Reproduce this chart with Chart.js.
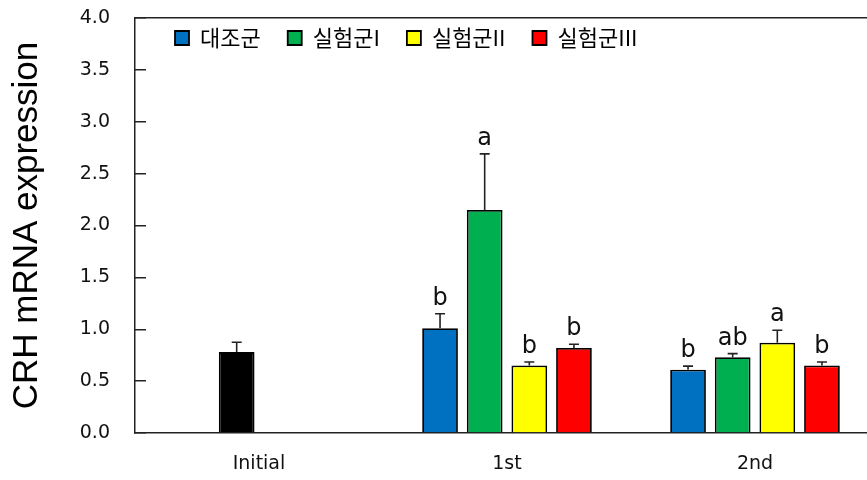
<!DOCTYPE html>
<html>
<head>
<meta charset="utf-8">
<script src="https://cdn.jsdelivr.net/npm/chart.js@4.4.0/dist/chart.umd.min.js"></script>
<style>
  html, body { margin: 0; padding: 0; background: #fff; overflow: hidden; }
  #wrap { width: 867px; height: 480px; overflow: hidden; }
</style>
</head>
<body>
<div id="wrap"><canvas id="chart" width="880" height="480"></canvas></div>
<script>
// 데이터
const categories = ['Initial', '1st', '2nd'];
const groupNames = ['대조군', '실험군I', '실험군II', '실험군III'];
const yTicks = [0.0, 0.5, 1.0, 1.5, 2.0, 2.5, 3.0, 3.5, 4.0];

const initialMeans = [0.78, null, null];
const initialErrors = [0.095, null, null];

const controlMeans = [null, 1.01, 0.61];
const controlErrors = [null, 0.14, 0.035];
const controlLetters = [null, 'b', 'b'];

const group1Means = [null, 2.15, 0.73];
const group1Errors = [null, 0.54, 0.035];
const group1Letters = [null, 'a', 'ab'];

const group2Means = [null, 0.65, 0.87];
const group2Errors = [null, 0.035, 0.12];
const group2Letters = [null, 'b', 'a'];

const group3Means = [null, 0.82, 0.65];
const group3Errors = [null, 0.035, 0.035];
const group3Letters = [null, 'b', 'b'];

const colors = ['#0070C0', '#00B050', '#FFFF00', '#FF0000'];
const wideFont = '"DejaVu Sans", Verdana, sans-serif';

// 에러바 + 유의성 문자
const errorBarPlugin = {
  id: 'errorBars',
  afterDatasetsDraw(chart) {
    const ctx = chart.ctx;
    const yScale = chart.scales.y;
    ctx.save();
    chart.data.datasets.forEach((ds, i) => {
      const meta = chart.getDatasetMeta(i);
      meta.data.forEach((bar, j) => {
        const v = ds.data[j];
        const e = ds.errors[j];
        if (v == null || e == null) return;
        const yBar = yScale.getPixelForValue(v);
        const yTop = yScale.getPixelForValue(v + e);
        ctx.strokeStyle = '#222';
        ctx.lineWidth = 1.6;
        ctx.beginPath();
        ctx.moveTo(bar.x, yBar);
        ctx.lineTo(bar.x, yTop);
        ctx.moveTo(bar.x - 5, yTop);
        ctx.lineTo(bar.x + 5, yTop);
        ctx.stroke();
        const letter = ds.letters ? ds.letters[j] : null;
        if (letter) {
          ctx.fillStyle = '#111';
          ctx.font = '24px ' + wideFont;
          ctx.textAlign = 'center';
          ctx.textBaseline = 'alphabetic';
          ctx.fillText(letter, bar.x, yTop - 9);
        }
      });
    });
    ctx.restore();
  }
};

// 범례를 그래프 안쪽 왼쪽 위로 이동
const legendInside = {
  id: 'legendInside',
  afterInit(chart) {
    const legend = chart.legend;
    const fit = legend.fit;
    legend.fit = function () {
      fit.call(this);
      this.height = 0;
    };
  },
  afterLayout(chart) {
    const legend = chart.legend;
    legend.left = chart.chartArea.left + 13;
    legend.right = chart.width;
    legend.top = 0;
    legend.bottom = 70;
  }
};

const datasets = [
  { label: groupNames[0], data: controlMeans, errors: controlErrors, letters: controlLetters, backgroundColor: colors[0], stack: 's0' },
  { label: groupNames[1], data: group1Means, errors: group1Errors, letters: group1Letters, backgroundColor: colors[1], stack: 's1' },
  { label: groupNames[2], data: group2Means, errors: group2Errors, letters: group2Letters, backgroundColor: colors[2], stack: 's2' },
  { label: groupNames[3], data: group3Means, errors: group3Errors, letters: group3Letters, backgroundColor: colors[3], stack: 's3' },
  { label: 'Initial', data: initialMeans, errors: initialErrors, backgroundColor: '#000000', stack: 's1' }
].map(d => Object.assign(d, { borderColor: '#000', borderWidth: 1.8 }));

new Chart(document.getElementById('chart'), {
  type: 'bar',
  data: { labels: categories, datasets: datasets },
  options: {
    responsive: false,
    animation: false,
    categoryPercentage: 0.72,
    barPercentage: 0.8,
    layout: { padding: { top: 18, right: 1, bottom: 0, left: 0 } },
    plugins: {
      tooltip: { enabled: false },
      legend: {
        position: 'top',
        align: 'start',
        labels: {
          filter: (item) => item.datasetIndex < 4,
          boxWidth: 14,
          boxHeight: 14,
          padding: 27,
          color: '#000',
          font: { family: '"Noto Sans CJK KR", sans-serif', size: 22 }
        }
      }
    },
    scales: {
      x: {
        position: 'bottom',
        grid: { display: true, drawOnChartArea: false, drawTicks: false },
        border: { display: true, color: '#222', width: 1.5 },
        ticks: {
          color: '#111',
          padding: 20,
          font: { family: wideFont, size: 19 }
        },
        afterFit: (scale) => { scale.height = 47; }
      },
      xTop: {
        type: 'category',
        position: 'top',
        grid: { display: false },
        border: { display: true, color: '#222', width: 1.5 },
        ticks: { display: false },
        afterFit: (scale) => { scale.height = 0; }
      },
      y: {
        stacked: false,
        min: 0,
        max: 4,
        afterBuildTicks: (scale) => { scale.ticks = yTicks.map(v => ({ value: v })); },
        grid: { display: true, drawOnChartArea: false, drawTicks: true, tickLength: -11, color: '#222', lineWidth: 1.5 },
        border: { display: true, color: '#222', width: 1.5 },
        ticks: {
          color: '#111',
          padding: 36,
          font: { family: wideFont, size: 19 },
          callback: (v) => Number(v).toFixed(1)
        },
        title: {
          display: true,
          text: 'CRH mRNA expression',
          color: '#000',
          padding: { top: 6, bottom: 0 },
          font: { family: '"Liberation Sans", Arial, sans-serif', size: 35 }
        },
        afterFit: (scale) => {
          scale.width = 135;
          scale.paddingTop = 0;
          scale.paddingBottom = 0;
        }
      }
    }
  },
  plugins: [errorBarPlugin, legendInside]
});
</script>
</body>
</html>
